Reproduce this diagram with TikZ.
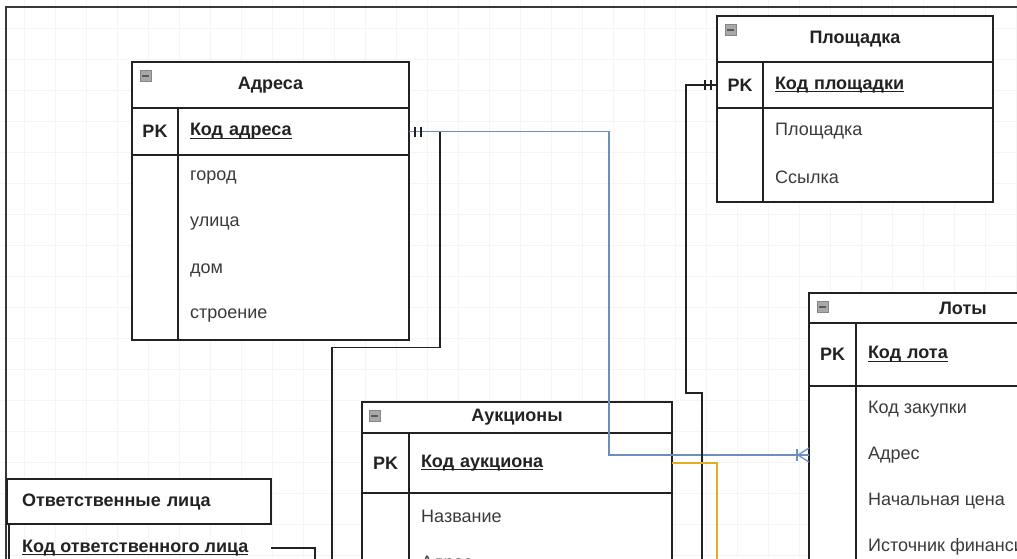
\documentclass[tikz,border=0pt]{standalone}
\usepackage{fontspec}
\setmainfont{Liberation Sans}
\usepackage{xcolor}
\usetikzlibrary{positioning, calc}
\definecolor{ink}{RGB}{34,34,34}
\definecolor{fieldtext}{RGB}{58,58,58}
\definecolor{gridgrey}{RGB}{245,245,245}
\definecolor{linkblue}{RGB}{108,142,191}
\definecolor{linkgold}{RGB}{226,172,38}
\definecolor{icongrey}{RGB}{168,168,168}
\newcommand{\tabfont}{\fontsize{18}{21}\selectfont}
\newcommand{\keyname}[1]{\setbox0\hbox{#1}\rlap{\rule[-3pt]{\wd0}{1.3pt}}\box0}

\begin{document}
\begin{tikzpicture}[
  x=1pt, y=-1pt,
  ent/.style={draw=ink, fill=white, line width=1.7pt, inner sep=0pt,
              outer sep=0pt, anchor=north west},
  ttl/.style={ent, font=\tabfont\bfseries, text=ink},
  pkc/.style={ent, font=\tabfont\bfseries, text=ink},
  keyc/.style={ent, font=\tabfont\bfseries, text=ink, align=left,
               inner xsep=12pt},
  fld/.style={font=\tabfont, text=fieldtext, anchor=west, inner sep=0pt},
  icon/.style={anchor=north west, draw=icongrey!80!black, fill=icongrey,
               minimum size=11pt, inner sep=0pt, line width=0.6pt,
               path picture={\draw[ink!75, line width=1.6pt]
                 ([xshift=2pt]path picture bounding box.west) --
                 ([xshift=-2pt]path picture bounding box.east);}},
  link/.style={draw=ink, line width=1.6pt},
  bluelink/.style={draw=linkblue, line width=1.3pt},
  goldlink/.style={draw=linkgold, line width=1.8pt},
  gridline/.style={draw=gridgrey, line width=0.7pt},
  frame/.style={draw=ink!90, line width=2pt}]

  \useasboundingbox (0,0) rectangle (1017,558);
  \clip (0,0) rectangle (1017,558);

  % --- canvas grid and the window frame
  \foreach \gx in {24,55,...,1017} \draw[gridline] (\gx,0) -- (\gx,558);
  \foreach \gy in {28,59,...,558} \draw[gridline] (0,\gy) -- (1017,\gy);
  \draw[frame] (6,570) |- (1030,7);

  % --- Адреса
  \node[ttl, minimum width=277pt, minimum height=46pt] (adrT) at (132,62) {Адреса};
  \node[icon] (adrI) at ($(adrT.north west)+(8,8)$) {};
  \node[pkc, minimum width=46pt, minimum height=47pt] (adrP) at (132,108) {PK};
  \node[keyc, text width=207pt, minimum height=47pt] (adrK) at (178,108) {\keyname{Код адреса}};
  \node[ent, minimum width=46pt, minimum height=185pt] (adrC) at (132,155) {};
  \node[ent, minimum width=231pt, minimum height=185pt] (adrB) at (178,155) {};
  \foreach \t [count=\i] in {город, улица, дом, строение}
    \node[fld] (adrF\i) at ($(adrB.north west)+(12,{46*\i-23})$) {\t};

  % --- Площадка
  \node[ttl, minimum width=276pt, minimum height=46pt] (plqT) at (717,16) {Площадка};
  \node[icon] (plqI) at ($(plqT.north west)+(8,8)$) {};
  \node[pkc, minimum width=46pt, minimum height=46pt] (plqP) at (717,62) {PK};
  \node[keyc, text width=206pt, minimum height=46pt] (plqK) at (763,62) {\keyname{Код площадки}};
  \node[ent, minimum width=46pt, minimum height=94pt] (plqC) at (717,108) {};
  \node[ent, minimum width=230pt, minimum height=94pt] (plqB) at (763,108) {};
  \foreach \t [count=\i] in {Площадка, Ссылка}
    \node[fld] (plqF\i) at ($(plqB.north west)+(12,{46*\i-23})$) {\t};

  % --- Лоты
  \node[ttl, minimum width=308pt, minimum height=30pt] (lotT) at (809,293) {Лоты};
  \node[icon] (lotI) at ($(lotT.north west)+(8,8)$) {};
  \node[pkc, minimum width=47pt, minimum height=63pt] (lotP) at (809,323) {PK};
  \node[keyc, text width=237pt, minimum height=63pt] (lotK) at (856,323) {\keyname{Код лота}};
  \node[ent, minimum width=47pt, minimum height=250pt] (lotC) at (809,386) {};
  \node[ent, minimum width=261pt, minimum height=250pt] (lotB) at (856,386) {};
  \foreach \t [count=\i] in {Код закупки, Адрес, Начальная цена, Источник финансирования}
    \node[fld] (lotF\i) at ($(lotB.north west)+(12,{46*\i-23})$) {\t};

  % --- Аукционы
  \node[ttl, minimum width=310pt, minimum height=31pt] (aucT) at (362,402) {Аукционы};
  \node[icon] (aucI) at ($(aucT.north west)+(7,8)$) {};
  \node[pkc, minimum width=47pt, minimum height=60pt] (aucP) at (362,433) {PK};
  \node[keyc, text width=239pt, minimum height=60pt] (aucK) at (409,433) {\keyname{Код аукциона}};
  \node[ent, minimum width=47pt, minimum height=200pt] (aucC) at (362,493) {};
  \node[ent, minimum width=263pt, minimum height=200pt] (aucB) at (409,493) {};
  \foreach \t [count=\i] in {Название, Адрес}
    \node[fld] (aucF\i) at ($(aucB.north west)+(12,{48*\i-25})$) {\t};

  % --- Ответственные лица (no PK column, left-aligned title)
  \node[ttl, minimum width=264pt, minimum height=45pt, align=left,
        text width=234pt, inner xsep=15pt] (otvT) at (7,479) {Ответственные лица};
  \node[anchor=north west, minimum width=262pt, minimum height=48pt,
        inner sep=0pt] (otvR) at (9,524) {};
  \node[font=\tabfont\bfseries, text=ink, anchor=west, inner sep=0pt]
    (otvK) at ($(otvR.north west)+(13,24)$) {\keyname{Код ответственного лица}};
  \draw[link] (otvR.north west) -- (otvR.south west);

  % --- relations; the ones that leave the window end at named points
  \coordinate (plqEnd) at (702,600);
  \coordinate (aucEnd) at (717,600);
  \coordinate (otvEnd) at (315,600);

  \draw[link] (adrK.east) -- ++(31,0) -- ++(0,216)
    -| ($(aucC.west |- aucF2)+(-30,0)$) -- (aucC.west |- aucF2);
  \draw[bluelink] (adrK.east) -- ++(200,0) |- (lotC.west |- lotF2);
  \draw[bluelink] ($(lotC.west |- lotF2)+(-11,0)$) -- ++(11,-7)
                  ($(lotC.west |- lotF2)+(-11,0)$) -- ++(11,7);
  \draw[bluelink] ($(lotC.west |- lotF2)+(-12,-6)$) -- ++(0,12);
  \draw[link] (plqP.west) -- ++(-31,0) -- ++(0,308) -| (plqEnd);
  \draw[goldlink] (aucK.east) -| (aucEnd);
  \draw[link] (otvR.east) -| (otvEnd);

  % mandatory-one marks
  \foreach \d in {6,12} {
    \draw[link, line width=1.2pt] ($(adrK.east)+(\d,-5)$) -- ++(0,10);
    \draw[link, line width=1.2pt] ($(plqP.west)+(-\d,-5)$) -- ++(0,10);
    \draw[link, line width=1.2pt] ($(aucC.west |- aucF2)+(-\d,-5)$) -- ++(0,10);
  }
\end{tikzpicture}
\end{document}
